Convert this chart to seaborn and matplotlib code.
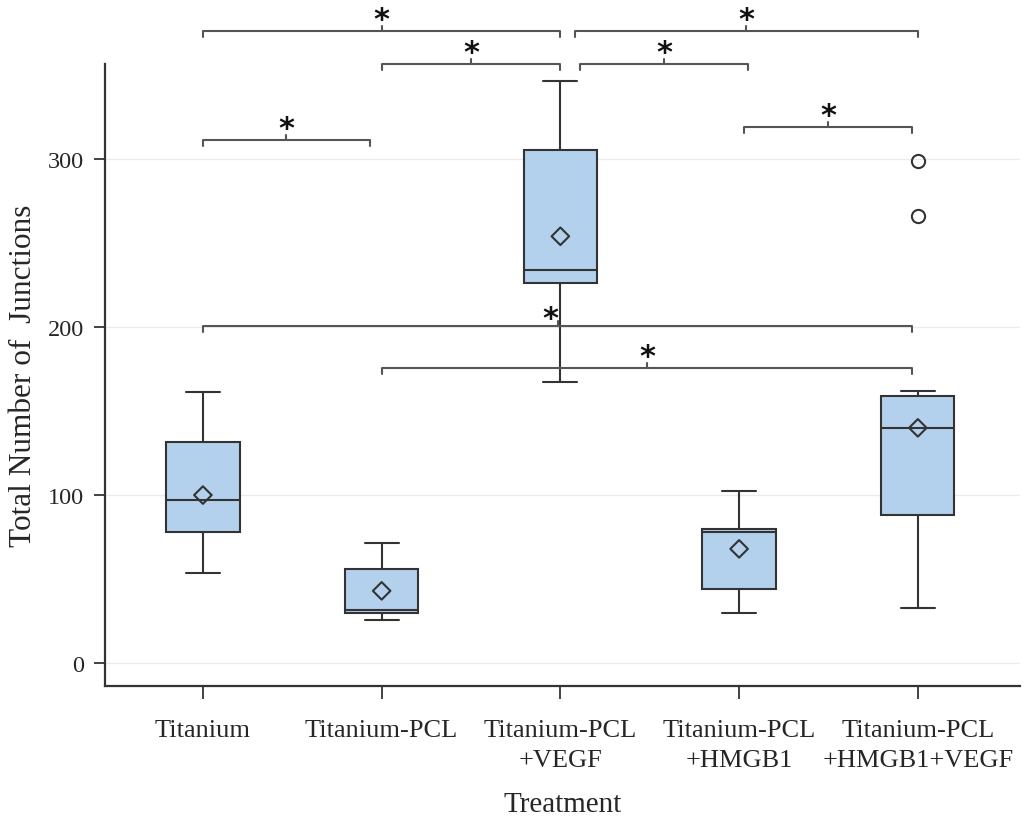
import matplotlib
matplotlib.use("Agg")
import matplotlib.pyplot as plt
import seaborn as sns
import numpy as np

# ---------------- data ----------------
groups = ["Titanium", "Titanium-PCL", "Titanium-PCL\n+VEGF",
          "Titanium-PCL\n+HMGB1", "Titanium-PCL\n+HMGB1+VEGF"]
whisker_low = [53.6, 25.6, 167.3, 29.8, 32.7]
q1_vals = [78.0, 29.8, 226.0, 44.0, 88.0]
medians = [97.0, 31.5, 234.0, 78.0, 140.0]
q3_vals = [131.5, 56.0, 305.4, 79.8, 159.0]
whisker_high = [161.3, 71.4, 346.4, 102.4, 162.0]
means = [100.0, 43.0, 254.0, 68.0, 140.0]
outliers = [[], [], [], [], [299.0, 266.0]]

# significance comparisons: (group a, group b, bracket height)
comp_a = [0, 0, 1, 2, 2, 3, 0, 1]
comp_b = [1, 2, 2, 4, 3, 4, 4, 4]
comp_h = [311.0, 376.0, 356.5, 376.0, 356.5, 319.0, 200.6, 175.6]
comp_label = ["*"] * 8

yticks = [0, 100, 200, 300]

# ---------------- style ----------------
sns.set_style("white")
plt.rcParams['font.family'] = ['Liberation Serif', 'DejaVu Serif']

line_c = "#333333"
box_c = "#b3d1ec"
brk_c = "#555555"

fig = plt.figure(figsize=(10.24, 8.2), dpi=100)
ax = fig.add_axes([0.1025, 0.162, 0.8935, 0.7587])

positions = list(range(len(groups)))
stats = []
for i in positions:
    stats.append(dict(whislo=whisker_low[i], q1=q1_vals[i], med=medians[i],
                      q3=q3_vals[i], whishi=whisker_high[i],
                      fliers=outliers[i], mean=means[i], label=groups[i]))

ax.bxp(stats, positions=positions, widths=0.41, capwidths=0.19,
       patch_artist=True, showfliers=True, showmeans=False,
       boxprops=dict(facecolor=box_c, edgecolor=line_c, linewidth=1.5),
       medianprops=dict(color=line_c, linewidth=1.5),
       whiskerprops=dict(color=line_c, linewidth=1.5),
       capprops=dict(color=line_c, linewidth=1.5),
       flierprops=dict(marker='o', markerfacecolor='none',
                       markeredgecolor=line_c, markersize=9.5,
                       markeredgewidth=1.5),
       zorder=3)

sns.scatterplot(x=positions, y=means, marker='D', s=80, color='none',
                edgecolor=line_c, linewidth=1.5, zorder=5, ax=ax,
                legend=False)

# grid
for t in yticks:
    ax.axhline(t, color="#ebebeb", linewidth=1.0, zorder=0)

ax.set_xlim(-0.548, 4.571)
ax.set_ylim(-13.7, 356.5)
ax.set_xticks(positions)
ax.set_xticklabels(groups, fontsize=19, linespacing=1.45)
ax.set_yticks(yticks)
ax.set_yticklabels([str(t) for t in yticks], fontsize=17.5)
ax.tick_params(axis='x', length=9, width=1.3, color=line_c, pad=15,
               direction='out', bottom=True)
ax.tick_params(axis='y', length=8, width=1.3, color=line_c, pad=7,
               direction='out', left=True)

for s in ['top', 'right']:
    ax.spines[s].set_visible(False)
for s in ['left', 'bottom']:
    ax.spines[s].set_color(line_c)
    ax.spines[s].set_linewidth(1.6)

ax.set_xlabel("Treatment", fontsize=21, labelpad=14)
ax.set_ylabel("Total Number of  Junctions", fontsize=22.5, labelpad=7)

# ---------------- significance brackets ----------------
def bracket(xa, xb, y, label, star_dx=0.0, star_dy=7.0):
    d = 3.5
    ax.plot([xa, xa, xb, xb], [y - d, y, y, y - d], color=brk_c,
            linewidth=1.5, clip_on=False, zorder=6,
            solid_joinstyle='round', solid_capstyle='round')
    xm = (xa + xb) / 2
    ax.plot([xm, xm], [y, y + 3.0], color=brk_c, linewidth=1.5,
            clip_on=False, zorder=6)
    ax.text(xm + star_dx, y + star_dy, label, ha='center', va='center',
            fontsize=22, fontweight='bold', family='DejaVu Sans',
            color='#111111', clip_on=False, zorder=7)

for k in range(len(comp_a)):
    a, b = comp_a[k], comp_b[k]
    xa, xb = float(a), float(b)
    # small gaps so neighbouring brackets do not touch
    if a == 2 and b == 4:
        xa += 0.08
    if a == 2 and b == 3:
        xa += 0.11
        xb += 0.05
    if a == 3 and b == 4:
        xa += 0.03
        xb -= 0.03
    if a == 0 and b == 1:
        xb -= 0.066
    if b == 4 and a in (0, 1):
        xb -= 0.03
    if a == 0 and b == 4:
        bracket(xa, xb, comp_h[k], comp_label[k], star_dx=-0.04, star_dy=4.5)
    else:
        bracket(xa, xb, comp_h[k], comp_label[k])

fig.savefig("out.png", dpi=100)
